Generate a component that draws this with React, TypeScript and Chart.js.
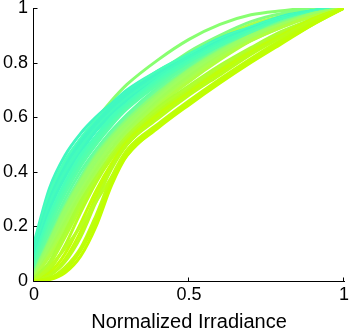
import React, { useEffect, useRef } from "react";
import { Chart, registerables } from "chart.js";

Chart.register(...registerables);

// Normalized irradiance sample positions
const xGrid = [0, 0.05, 0.1, 0.15, 0.2, 0.25, 0.3, 0.4, 0.5, 0.6, 0.7, 0.8, 0.9, 1];

// Cyan (concave) curves
const c01 = [0.14, 0.34, 0.46, 0.54, 0.6, 0.65, 0.7, 0.77, 0.83, 0.89, 0.93, 0.97, 0.99, 1];
const c02 = [0.13, 0.32, 0.44, 0.52, 0.59, 0.64, 0.69, 0.77, 0.83, 0.88, 0.93, 0.96, 0.99, 1];
const c03 = [0.12, 0.3, 0.42, 0.51, 0.58, 0.64, 0.69, 0.76, 0.82, 0.88, 0.92, 0.96, 0.99, 1];
const c04 = [0.1, 0.28, 0.4, 0.49, 0.56, 0.62, 0.67, 0.75, 0.82, 0.87, 0.92, 0.96, 0.99, 1];
const c05 = [0.09, 0.26, 0.38, 0.47, 0.55, 0.61, 0.66, 0.74, 0.81, 0.87, 0.92, 0.96, 0.98, 1];
const c06 = [0.08, 0.24, 0.36, 0.46, 0.53, 0.6, 0.65, 0.74, 0.81, 0.87, 0.92, 0.96, 0.98, 1];
const c07 = [0.06, 0.22, 0.34, 0.44, 0.52, 0.58, 0.64, 0.73, 0.8, 0.86, 0.91, 0.95, 0.98, 1];
const c08 = [0.05, 0.2, 0.32, 0.42, 0.5, 0.57, 0.63, 0.72, 0.79, 0.85, 0.91, 0.95, 0.98, 1];
const c09 = [0.04, 0.18, 0.3, 0.4, 0.48, 0.55, 0.61, 0.71, 0.79, 0.85, 0.9, 0.95, 0.98, 1];
const c10 = [0.03, 0.16, 0.28, 0.38, 0.47, 0.54, 0.6, 0.7, 0.78, 0.85, 0.9, 0.95, 0.98, 1];
const c11 = [0.11, 0.29, 0.41, 0.5, 0.57, 0.63, 0.68, 0.76, 0.82, 0.88, 0.925, 0.96, 0.99, 1];
const c12 = [0.07, 0.23, 0.35, 0.45, 0.53, 0.59, 0.65, 0.735, 0.805, 0.865, 0.915, 0.955, 0.985, 1];
const c13 = [0.05, 0.21, 0.33, 0.43, 0.51, 0.575, 0.635, 0.725, 0.8, 0.86, 0.91, 0.95, 0.98, 1];
const c14 = [0.12, 0.31, 0.43, 0.52, 0.585, 0.64, 0.69, 0.765, 0.83, 0.885, 0.93, 0.965, 0.99, 1];
const c15 = [0.09, 0.27, 0.39, 0.48, 0.55, 0.61, 0.665, 0.75, 0.815, 0.875, 0.92, 0.96, 0.985, 1];

// Green (intermediate) curves
const g00 = [0.1, 0.28, 0.41, 0.51, 0.59, 0.66, 0.72, 0.81, 0.885, 0.94, 0.975, 0.99, 1, 1];
const g01 = [0.02, 0.14, 0.26, 0.36, 0.45, 0.52, 0.58, 0.68, 0.77, 0.84, 0.9, 0.94, 0.98, 1];
const g02 = [0.02, 0.12, 0.23, 0.33, 0.42, 0.5, 0.56, 0.67, 0.76, 0.83, 0.89, 0.94, 0.97, 1];
const g03 = [0.01, 0.1, 0.2, 0.3, 0.39, 0.47, 0.54, 0.65, 0.74, 0.82, 0.88, 0.93, 0.97, 1];
const g04 = [0.01, 0.09, 0.18, 0.28, 0.37, 0.45, 0.52, 0.64, 0.73, 0.81, 0.88, 0.93, 0.97, 1];
const g05 = [0.08, 0.23, 0.35, 0.45, 0.53, 0.6, 0.66, 0.76, 0.84, 0.9, 0.95, 0.98, 0.995, 1];
const g06 = [0.05, 0.2, 0.33, 0.43, 0.51, 0.58, 0.64, 0.74, 0.82, 0.89, 0.94, 0.97, 0.99, 1];
const g07 = [0.03, 0.15, 0.27, 0.37, 0.46, 0.53, 0.59, 0.69, 0.775, 0.845, 0.9, 0.945, 0.98, 1];
const g08 = [0.02, 0.13, 0.245, 0.345, 0.435, 0.51, 0.57, 0.675, 0.765, 0.835, 0.895, 0.94, 0.975, 1];
const g09 = [0.01, 0.11, 0.215, 0.315, 0.405, 0.485, 0.55, 0.66, 0.75, 0.825, 0.885, 0.935, 0.97, 1];

// Yellow (S-shaped) curves
const y01 = [0, 0.005, 0.03, 0.09, 0.2, 0.35, 0.46, 0.56, 0.645, 0.725, 0.8, 0.87, 0.94, 1];
const y02 = [0, 0.01, 0.05, 0.12, 0.24, 0.38, 0.48, 0.575, 0.66, 0.74, 0.815, 0.885, 0.95, 1];
const y03 = [0, 0.02, 0.07, 0.16, 0.29, 0.41, 0.5, 0.595, 0.68, 0.755, 0.83, 0.895, 0.955, 1];
const y04 = [0, 0.03, 0.1, 0.21, 0.33, 0.43, 0.51, 0.61, 0.69, 0.765, 0.835, 0.9, 0.955, 1];
const y05 = [0, 0.04, 0.13, 0.25, 0.36, 0.45, 0.52, 0.62, 0.7, 0.775, 0.845, 0.905, 0.96, 1];
const y06 = [0, 0.06, 0.16, 0.27, 0.37, 0.46, 0.53, 0.63, 0.71, 0.785, 0.85, 0.91, 0.96, 1];
const y07 = [0.01, 0.07, 0.18, 0.29, 0.38, 0.46, 0.53, 0.635, 0.715, 0.79, 0.855, 0.915, 0.96, 1];
const y08 = [0, 0.05, 0.12, 0.2, 0.29, 0.38, 0.46, 0.57, 0.655, 0.73, 0.805, 0.875, 0.94, 1];
const y09 = [0, 0.02, 0.08, 0.18, 0.31, 0.42, 0.5, 0.605, 0.69, 0.77, 0.84, 0.9, 0.96, 1];
const y10 = [0, 0.01, 0.04, 0.11, 0.22, 0.36, 0.47, 0.57, 0.655, 0.735, 0.81, 0.88, 0.945, 1];

const curves = [
  y01, y10, y02, y08, y03, y09, y04, y05, y06, y07,
  g04, g03, g09, g02, g08, g01, g07,
  c10, c09, c08, c13, c07, c12, c06, c05, c15, c04, c11, c03, c14, c02, c01,
  g06, g05, g00,
];
const curveColors = [
  "#c0ff00", "#bcff08", "#bcff10", "#b8ff20", "#b8ff18", "#c0ff08", "#c0ff08", "#b4ff20", "#b0ff30", "#a8ff38",
  "#b0ff40", "#a8ff50", "#a0ff58", "#a0ff60", "#98ff68", "#98ff68", "#88ff78",
  "#6cff98", "#60ffa0", "#58ffa8", "#50ffb0", "#50ffb0", "#48ffb8", "#48ffb8", "#40f8c0", "#44fcbc", "#44fcbc", "#40f8c0", "#40f8c0", "#48ffb8", "#48ffb8", "#40f8c0",
  "#a8ff50", "#80ff80", "#88ff70",
];

const xTicks = [0, 0.5, 1];
const yTicks = [0, 0.2, 0.4, 0.6, 0.8, 1];
const xTitle = "Normalized Irradiance";

const axesPlugin = {
  id: "matlabAxes",
  beforeDatasetsDraw(chart: any) {
    const { ctx, chartArea, scales } = chart;
    const { left, right, top, bottom } = chartArea;
    const L = Math.round(left) - 0.5;
    const B = Math.round(bottom) + 0.5;
    ctx.save();
    ctx.strokeStyle = "#000";
    ctx.lineWidth = 1;
    ctx.beginPath();
    ctx.moveTo(L, Math.round(top));
    ctx.lineTo(L, B);
    ctx.lineTo(Math.round(right) + 1, B);
    for (const v of yTicks) {
      const p = Math.round(scales.y.getPixelForValue(v)) + 0.5;
      ctx.moveTo(L, p);
      ctx.lineTo(L + 4, p);
    }
    for (const v of xTicks) {
      const p = Math.round(scales.x.getPixelForValue(v)) - 0.5;
      ctx.moveTo(p, B);
      ctx.lineTo(p, B - 4);
    }
    ctx.stroke();
    ctx.restore();
  },
};

export default function App() {
  const ref = useRef<HTMLCanvasElement | null>(null);
  useEffect(() => {
    if (!ref.current) return;
    const font = "'Liberation Sans', Arial, Helvetica, sans-serif";
    const fmt = (v: any) => String(Number(v));
    const chart = new Chart(ref.current, {
      type: "line",
      data: {
        datasets: curves.map((c, i) => ({
          data: c.map((v, j) => ({ x: xGrid[j], y: v })),
          borderColor: curveColors[i],
          borderWidth: 3,
          pointRadius: 0,
          fill: false,
          cubicInterpolationMode: "monotone" as const,
        })),
      },
      options: {
        responsive: false,
        animation: false,
        devicePixelRatio: 1,
        layout: { padding: { top: 8, right: 6, left: 0, bottom: 0 } },
        plugins: { legend: { display: false }, tooltip: { enabled: false } },
        scales: {
          x: {
            type: "linear",
            min: 0,
            max: 1,
            afterBuildTicks: (s: any) => {
              s.ticks = xTicks.map((v) => ({ value: v }));
            },
            grid: { display: false, drawTicks: false },
            border: { display: false },
            ticks: { color: "#000", font: { family: font, size: 18 }, padding: 3, maxRotation: 0, callback: fmt },
            title: {
              display: true,
              text: xTitle,
              color: "#000",
              font: { family: font, size: 20 },
              padding: { top: 0, bottom: 1 },
            },
            afterFit: (s: any) => {
              s.height = 54;
              s.paddingLeft = 0;
              s.paddingRight = 0;
            },
          },
          y: {
            type: "linear",
            min: 0,
            max: 1,
            afterBuildTicks: (s: any) => {
              s.ticks = yTicks.map((v) => ({ value: v }));
            },
            grid: { display: false, drawTicks: false },
            border: { display: false },
            ticks: { color: "#000", font: { family: font, size: 18 }, padding: 6, callback: fmt },
            afterFit: (s: any) => {
              s.width = 34;
              s.paddingTop = 0;
              s.paddingBottom = 0;
            },
          },
        },
      },
      plugins: [axesPlugin],
    });
    return () => chart.destroy();
  }, []);
  return (
    <div style={{ position: "absolute", left: 0, top: 0, width: 350, height: 335, background: "#fff" }}>
      <canvas ref={ref} width={350} height={335} />
    </div>
  );
}
